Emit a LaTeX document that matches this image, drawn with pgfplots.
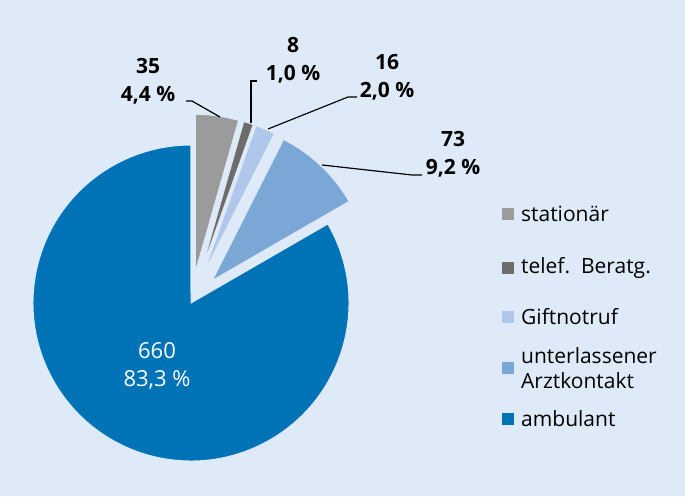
\documentclass[border=0pt]{standalone}
\usepackage{fontspec}
\setmainfont{Open Sans}
\usepackage{pgfplots}
\pgfplotsset{compat=1.18}
\usepackage{pgfplotstable}
\usetikzlibrary{calc}

\definecolor{cBg}{RGB}{222,234,247}
\definecolor{cStat}{RGB}{155,155,155}
\definecolor{cTel}{RGB}{108,108,108}
\definecolor{cGift}{RGB}{174,199,234}
\definecolor{cArzt}{RGB}{123,167,215}
\definecolor{cAmb}{RGB}{0,115,183}

% slices clockwise from 12 o'clock
\pgfplotstableread{
name value explode col
stationaer 35 31 cStat
telef 8 31 cTel
gift 16 31 cGift
arzt 73 31 cArzt
ambulant 660 0 cAmb
}\piedata

\begin{document}
\begin{tikzpicture}
\begin{axis}[
    x=1pt, y=1pt,
    xmin=0, xmax=685, ymin=0, ymax=496,
    scale only axis,
    hide axis,
    clip=false
]
\pgfplotsextra{
    \fill[cBg] (axis cs:0,0) rectangle (axis cs:685,496);
    % total
    \gdef\pietotal{0}
    \foreach \i in {0,...,4}{
        \pgfplotstablegetelem{\i}{value}\of\piedata
        \pgfmathsetmacro\tmp{\pietotal+\pgfplotsretval}
        \xdef\pietotal{\tmp}
    }
    \gdef\startang{90}
    \foreach \i in {0,...,4}{
        \pgfplotstablegetelem{\i}{value}\of\piedata \let\val\pgfplotsretval
        \pgfplotstablegetelem{\i}{explode}\of\piedata \let\expl\pgfplotsretval
        \pgfplotstablegetelem{\i}{col}\of\piedata \let\slicecol\pgfplotsretval
        \pgfmathsetmacro\sweep{\val/\pietotal*360}
        \pgfmathsetmacro\endang{\startang-\sweep}
        \pgfmathsetmacro\midang{\startang-\sweep/2}
        \fill[\slicecol, draw=cBg, line width=1pt]
            ($(axis cs:191,193)+(\midang:\expl pt)$) -- ++(\startang:158pt)
            arc[start angle=\startang, end angle=\endang, radius=158pt] -- cycle;
        \xdef\startang{\endang}
    }
    % leader lines
    \draw[black, line width=1.2pt] (axis cs:186,395) -- (axis cs:192,395) -- (axis cs:220,379);
    \draw[black, line width=1.2pt] (axis cs:257,415) -- (axis cs:251,415) -- (axis cs:251,373);
    \draw[black, line width=1.2pt] (axis cs:357,399) -- (axis cs:348,399) -- (axis cs:268,367);
    \draw[black, line width=1.2pt] (axis cs:322,331) -- (axis cs:412,321) -- (axis cs:422,321);
    % value labels
    \begin{scope}[every node/.style={align=center, font=\bfseries\fontsize{21}{28}\selectfont}]
        \node at (axis cs:148,415) {35\\4,4~\%};
        \node at (axis cs:293,436) {8\\1,0~\%};
        \node at (axis cs:387,419) {16\\2,0~\%};
        \node at (axis cs:453,342) {73\\9,2~\%};
        \node[text=white, font=\fontsize{22}{28}\selectfont] at (axis cs:157,130) {660\\83,3~\%};
    \end{scope}
    % legend
    \foreach \yy/\cc in {282/cStat, 228/cTel, 179/cGift, 128/cArzt, 77/cAmb}{
        \fill[\cc] ($(axis cs:508,\yy)+(-6pt,-6pt)$) rectangle ++(12pt,12pt);
    }
    \begin{scope}[every node/.style={anchor=west, align=left, inner sep=0pt, font=\fontsize{21}{25}\selectfont}]
        \node at (axis cs:521,282) {stationär};
        \node at (axis cs:521,228) {telef.\ \ Beratg.};
        \node at (axis cs:521,179) {Giftnotruf};
        \node at (axis cs:521,128) {unterlassener\\Arztkontakt};
        \node at (axis cs:521,77) {ambulant};
    \end{scope}
}
\end{axis}
\end{tikzpicture}
\end{document}
